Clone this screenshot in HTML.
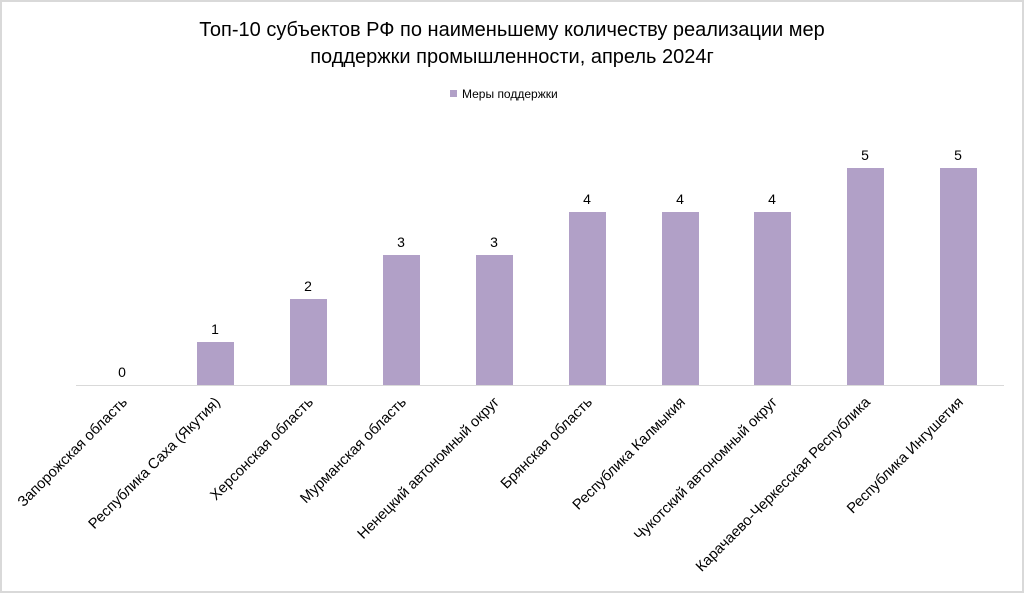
<!DOCTYPE html>
<html><head><meta charset="utf-8"><style>
html,body{margin:0;padding:0;background:#fff}
svg{display:block;font-family:"Liberation Sans",Arial,sans-serif}
</style></head><body>
<svg width="1024" height="593" viewBox="0 0 1024 593">
<rect x="1" y="1" width="1022" height="591" fill="#fff" stroke="#d9d9d9" stroke-width="2"/>
<text x="512" y="36" font-size="20" text-anchor="middle" fill="#000">Топ-10 субъектов РФ по наименьшему количеству реализации мер</text>
<text x="512" y="63" font-size="20" text-anchor="middle" fill="#000">поддержки промышленности, апрель 2024г</text>
<rect x="450" y="90" width="7" height="7" fill="#b1a0c7"/>
<text x="462" y="98" font-size="12" fill="#000">Меры поддержки</text>
<line x1="76" y1="385.5" x2="1004" y2="385.5" stroke="#d9d9d9" stroke-width="1"/>
<g fill="#b1a0c7">
<rect x="197" y="342" width="37" height="43"/>
<rect x="290" y="299" width="37" height="86"/>
<rect x="383" y="255" width="37" height="130"/>
<rect x="476" y="255" width="37" height="130"/>
<rect x="569" y="212" width="37" height="173"/>
<rect x="662" y="212" width="37" height="173"/>
<rect x="754" y="212" width="37" height="173"/>
<rect x="847" y="168" width="37" height="217"/>
<rect x="940" y="168" width="37" height="217"/>
</g>
<g font-size="14" text-anchor="middle" fill="#000">
<text x="122" y="377">0</text>
<text x="215" y="334">1</text>
<text x="308" y="291">2</text>
<text x="401" y="247">3</text>
<text x="494" y="247">3</text>
<text x="587" y="204">4</text>
<text x="680" y="204">4</text>
<text x="772" y="204">4</text>
<text x="865" y="160">5</text>
<text x="958" y="160">5</text>
</g>
<g font-size="14.7" text-anchor="end" fill="#000">
<text transform="translate(128,403) rotate(-45)">Запорожская область</text>
<text transform="translate(221,403) rotate(-45)">Республика Саха (Якутия)</text>
<text transform="translate(314,403) rotate(-45)">Херсонская область</text>
<text transform="translate(407,403) rotate(-45)">Мурманская область</text>
<text transform="translate(500,403) rotate(-45)">Ненецкий автономный округ</text>
<text transform="translate(593,403) rotate(-45)">Брянская область</text>
<text transform="translate(686,403) rotate(-45)">Республика Калмыкия</text>
<text transform="translate(778,403) rotate(-45)">Чукотский автономный округ</text>
<text transform="translate(871,403) rotate(-45)">Карачаево-Черкесская Республика</text>
<text transform="translate(964,403) rotate(-45)">Республика Ингушетия</text>
</g>
</svg>
</body></html>
